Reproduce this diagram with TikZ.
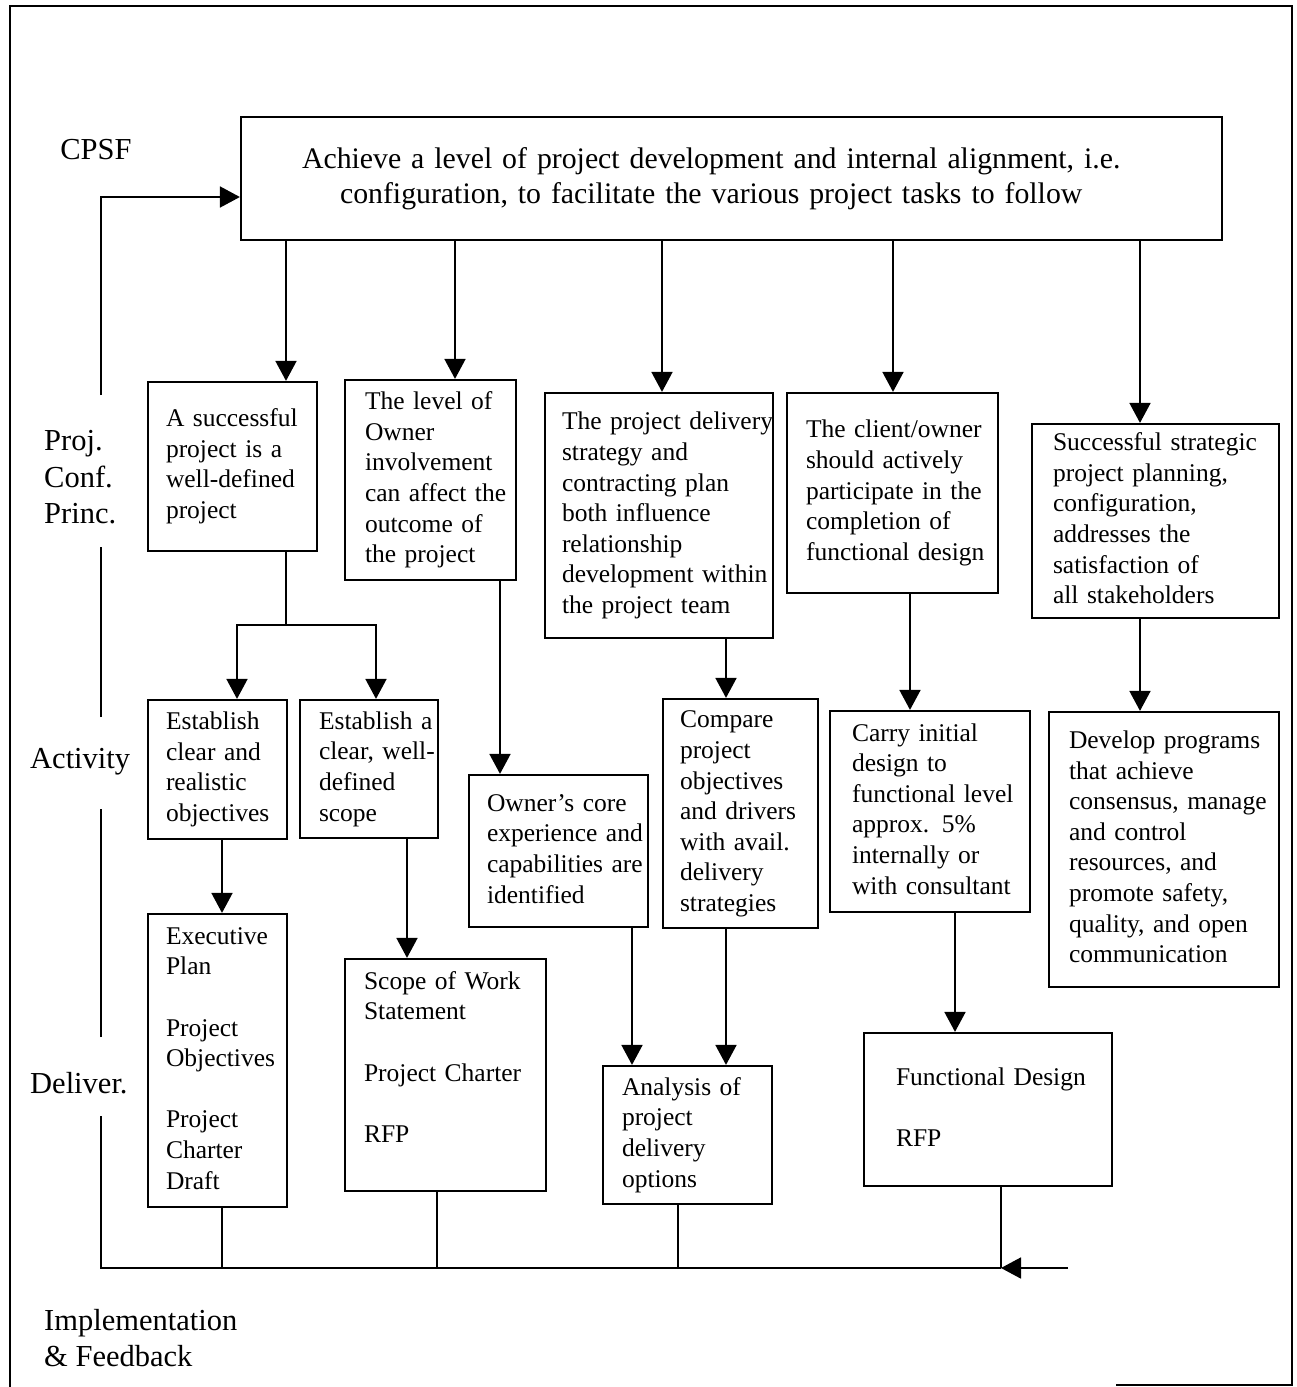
\documentclass[tikz,border=0pt]{standalone}
\usepackage{fontspec}
\setmainfont{Liberation Serif}
\usetikzlibrary{arrows.meta}
% left-aligned block of lines, kept on its own lines regardless of the box width
\newcommand\boxlines[1]{\begin{tabular}{@{}l@{}}#1\end{tabular}}
\begin{document}
\begin{tikzpicture}[x=1pt,y=-1pt,
  % box={width}{height}{left padding of the text}
  box/.style n args={3}{draw, line width=2.2pt, inner sep=0pt,
    minimum width=#1pt, minimum height=#2pt, text width=#1pt-2*#3pt,
    font=\fontsize{25.5}{30.6}\selectfont},
  conn/.style={line width=1.8pt},
  arr/.style={conn, -{Triangle[width=21pt,length=20pt]}},
  stub/.style={line width=1.4pt},
  lbl/.style={inner sep=0pt, align=left, font=\fontsize{30.5}{36.5}\selectfont},
]
\useasboundingbox (0,0) rectangle (1296,1387);

% outer frame
\draw[line width=1.6pt] (10,1387) -- (10,6) -- (1292,6) -- (1292,1385) -- (1116,1385);

% row labels
\node[lbl] (cpsf) at (96,150) {CPSF};
\node[lbl, anchor=west] (pcp) at (44,477.5) {Proj.\\Conf.\\Princ.};
\node[lbl, anchor=west] (act) at (30,762) {Activity};
\node[lbl, anchor=west] (dlv) at (30,1083) {Deliver.};
\node[lbl, anchor=west] (impl) at (44,1338) {Implementation\\\& Feedback};

% CPSF statement
\node[box={981}{123}{61}, font=\fontsize{29.8}{35}\selectfont] (top) at (731.5,178.5)
  {\begin{tabular}{@{}c@{}}Achieve a level of project development and internal alignment, i.e.\\
   configuration, to facilitate the various project tasks to follow\end{tabular}};

% project configuration principles
\node[box={169}{169}{18}] (b1) at (232.5,466.5)
  {\boxlines{A successful\\project is a\\well-defined\\project}};
\node[box={171}{200}{20}] (b2) at (430.5,480)
  {\boxlines{The level of\\Owner\\involvement\\can affect the\\outcome of\\the project}};
\node[box={228}{245}{17}] (b3) at (659,515.5)
  {\boxlines{The project delivery\\strategy and\\contracting plan\\both influence\\relationship\\development within\\the project team}};
\node[box={211}{200}{19}] (b4) at (892.5,493)
  {\boxlines{The client/owner\\should actively\\participate in the\\completion of\\functional design}};
\node[box={247}{194}{21}] (b5) at (1155.5,521)
  {\boxlines{Successful strategic\\project planning,\\configuration,\\addresses the\\satisfaction of\\all stakeholders}};

% activities
\node[box={139}{139}{18}] (e1) at (217.5,769.5)
  {\boxlines{Establish\\clear and\\realistic\\objectives}};
\node[box={138}{138}{19}] (e2) at (369,769)
  {\boxlines{Establish a\\clear, well-\\defined\\scope}};
\node[box={179}{152}{18}] (o) at (558.5,851)
  {\boxlines{Owner's core\\experience and\\capabilities are\\identified}};
\node[box={155}{229}{17}] (c) at (740.5,813.5)
  {\boxlines{Compare\\project\\objectives\\and drivers\\with avail.\\delivery\\strategies}};
\node[box={200}{201}{22}] (ci) at (930,811.5)
  {\boxlines{Carry initial\\design to\\functional level\\approx. 5\%\\internally or\\with consultant}};
\node[box={230}{275}{20}] (d) at (1164,849.5)
  {\boxlines{Develop programs\\that achieve\\consensus, manage\\and control\\resources, and\\promote safety,\\quality, and open\\communication}};

% deliverables
\node[box={139}{293}{18}] (x) at (217.5,1060.5)
  {\boxlines{Executive\\Plan\\ \\Project\\Objectives\\ \\Project\\Charter\\Draft}};
\node[box={201}{232}{19}] (s) at (445.5,1075)
  {\boxlines{Scope of Work\\Statement\\ \\Project Charter\\ \\RFP\\ \mbox{}}};
\node[box={169}{138}{19}] (a) at (687.5,1135)
  {\boxlines{Analysis of\\project\\delivery\\options}};
\node[box={248}{153}{32}] (f) at (988,1109.5)
  {\boxlines{Functional Design\\ \\RFP}};

% connector columns
\coordinate (xa) at (286,0);
\coordinate (xb) at (455,0);
\coordinate (xc) at (662,0);
\coordinate (xd) at (893,0);
\coordinate (xe) at (1140,0);
\coordinate (fork) at (286,625);
\coordinate (xf) at (237,0);
\coordinate (xg) at (376,0);
\coordinate (xh) at (500,0);
\coordinate (xi) at (726,0);
\coordinate (xj) at (910,0);
\coordinate (xk) at (222,0);
\coordinate (xl) at (407,0);
\coordinate (xm) at (632,0);
\coordinate (xn) at (955,0);
\coordinate (xo) at (437,0);
\coordinate (xp) at (678,0);

% statement -> principles
\draw[arr] (top.south -| xa) -- (b1.north -| xa);
\draw[arr] (top.south -| xb) -- (b2.north -| xb);
\draw[arr] (top.south -| xc) -- (b3.north -| xc);
\draw[arr] (top.south -| xd) -- (b4.north -| xd);
\draw[arr] (top.south -| xe) -- (b5.north -| xe);

% principles -> activities
\draw[arr] (b1.south -| fork) -- (fork) -- (fork -| xf) -- (e1.north -| xf);
\draw[arr] (fork) -- (fork -| xg) -- (e2.north -| xg);
\draw[arr] (b2.south -| xh) -- (o.north -| xh);
\draw[arr] (b3.south -| xi) -- (c.north -| xi);
\draw[arr] (b4.south -| xj) -- (ci.north -| xj);
\draw[arr] (b5.south -| xe) -- (d.north -| xe);

% activities -> deliverables
\draw[arr] (e1.south -| xk) -- (x.north -| xk);
\draw[arr] (e2.south -| xl) -- (s.north -| xl);
\draw[arr] (o.south -| xm) -- (a.north -| xm);
\draw[arr] (c.south -| xi) -- (a.north -| xi);
\draw[arr] (ci.south -| xn) -- (f.north -| xn);

% implementation & feedback loop
\coordinate (fbin) at (1068,1268);
\coordinate (fbj) at (1001,1268);
\coordinate (fbc) at (101,1268);
\coordinate (g1) at (101,1116);
\coordinate (g2) at (101,1037);
\coordinate (g3) at (101,809);
\coordinate (g4) at (101,717);
\coordinate (g5) at (101,547);
\coordinate (g6) at (101,395);
\coordinate (fbt) at (101,197);

\draw[stub] (x.south -| xk) -- (fbj -| xk);
\draw[stub] (s.south -| xo) -- (fbj -| xo);
\draw[stub] (a.south -| xp) -- (fbj -| xp);
\draw[stub] (f.south -| fbj) -- (fbj);

\draw[arr] (fbin) -- (fbj);
\draw[conn] (fbj) -- (fbc) -- (g1);
\draw[conn] (g2) -- (g3);
\draw[conn] (g4) -- (g5);
\draw[arr] (g6) -- (fbt) -- (fbt -| top.west);
\end{tikzpicture}
\end{document}
